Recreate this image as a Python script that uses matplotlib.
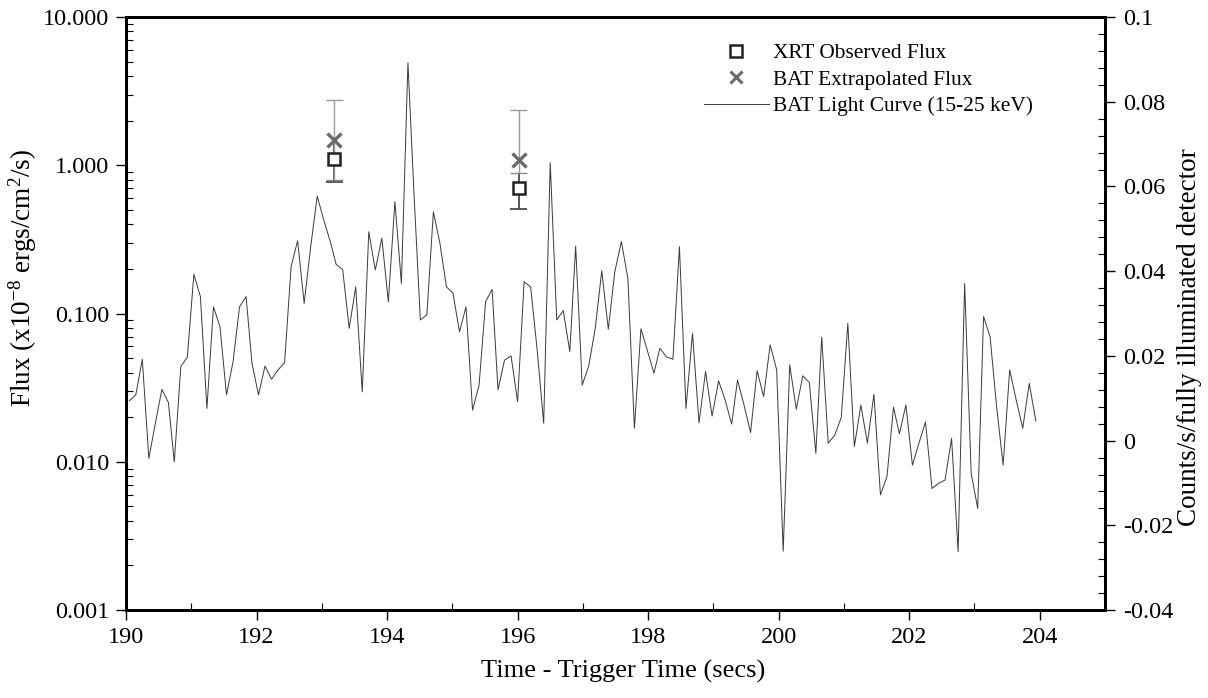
import matplotlib
matplotlib.use("Agg")
import matplotlib.pyplot as plt
import matplotlib.ticker as mticker
from matplotlib.lines import Line2D
import numpy as np

plt.rcParams['font.family'] = ['Liberation Serif', 'DejaVu Serif']
plt.rcParams['mathtext.fontset'] = 'custom'
plt.rcParams['mathtext.rm'] = 'Liberation Serif'
plt.rcParams['mathtext.it'] = 'Liberation Serif:italic'
plt.rcParams['axes.unicode_minus'] = False

# BAT light curve (15-25 keV), counts/s/fully illuminated detector
lc_time = [190.05, 190.15, 190.25, 190.35, 190.45, 190.55, 190.65, 190.74, 190.84, 190.94,
           191.04, 191.14, 191.24, 191.34, 191.44, 191.54, 191.64, 191.74, 191.84, 191.93,
           192.03, 192.13, 192.23, 192.33, 192.43, 192.53, 192.63, 192.73, 192.83, 192.93,
           193.03, 193.13, 193.22, 193.32, 193.42, 193.52, 193.62, 193.72, 193.82, 193.92,
           194.02, 194.12, 194.22, 194.32, 194.41, 194.51, 194.61, 194.71, 194.81, 194.91,
           195.01, 195.11, 195.21, 195.31, 195.41, 195.51, 195.61, 195.70, 195.80, 195.90,
           196.00, 196.10, 196.20, 196.30, 196.40, 196.50, 196.60, 196.70, 196.80, 196.89,
           196.99, 197.09, 197.19, 197.29, 197.39, 197.49, 197.59, 197.69, 197.79, 197.89,
           197.99, 198.09, 198.18, 198.28, 198.38, 198.48, 198.58, 198.68, 198.78, 198.88,
           198.98, 199.08, 199.18, 199.28, 199.37, 199.47, 199.57, 199.67, 199.77, 199.87,
           199.97, 200.07, 200.17, 200.27, 200.37, 200.47, 200.57, 200.66, 200.76, 200.86,
           200.96, 201.06, 201.16, 201.26, 201.36, 201.46, 201.56, 201.66, 201.76, 201.85,
           201.95, 202.05, 202.15, 202.25, 202.35, 202.45, 202.55, 202.65, 202.75, 202.85,
           202.95, 203.05, 203.14, 203.24, 203.34, 203.44, 203.54, 203.64, 203.74, 203.84,
           203.94]
lc_counts = [0.0094, 0.0108, 0.0192, -0.0042, 0.0041, 0.0121, 0.0090, -0.0050, 0.0175, 0.0197,
             0.0393, 0.0340, 0.0076, 0.0316, 0.0269, 0.0108, 0.0186, 0.0316, 0.0340, 0.0183,
             0.0108, 0.0176, 0.0145, 0.0167, 0.0184, 0.0411, 0.0472, 0.0324, 0.0458, 0.0577,
             0.0521, 0.0470, 0.0416, 0.0404, 0.0265, 0.0363, 0.0115, 0.0493, 0.0403, 0.0478,
             0.0328, 0.0564, 0.0371, 0.0892, 0.0592, 0.0285, 0.0297, 0.0540, 0.0466, 0.0363,
             0.0348, 0.0257, 0.0316, 0.0072, 0.0131, 0.0328, 0.0357, 0.0120, 0.0190, 0.0200,
             0.0092, 0.0375, 0.0363, 0.0214, 0.0041, 0.0656, 0.0285, 0.0307, 0.0210, 0.0459,
             0.0131, 0.0176, 0.0265, 0.0401, 0.0263, 0.0399, 0.0470, 0.0383, 0.0029, 0.0264,
             0.0212, 0.0159, 0.0218, 0.0198, 0.0192, 0.0458, 0.0076, 0.0253, 0.0042, 0.0163,
             0.0058, 0.0141, 0.0096, 0.0039, 0.0143, 0.0084, 0.0019, 0.0165, 0.0104, 0.0226,
             0.0167, -0.0261, 0.0179, 0.0074, 0.0153, 0.0137, -0.0030, 0.0244, -0.0006, 0.0013,
             0.0055, 0.0277, -0.0014, 0.0084, -0.0006, 0.0109, -0.0128, -0.0085, 0.0079, 0.0016,
             0.0084, -0.0058, -0.0006, 0.0044, -0.0113, -0.0101, -0.0093, 0.0005, -0.0262, 0.0371,
             -0.0077, -0.0160, 0.0293, 0.0245, 0.0080, -0.0058, 0.0167, 0.0096, 0.0029, 0.0135,
             0.0047]

# flux points (x1e-8 ergs/cm2/s)
flux_time = [193.19, 196.02]
xrt_flux = [1.11, 0.707]
xrt_lo = [0.775, 0.504]
xrt_hi = [1.40, 0.887]
bat_flux = [1.476, 1.093]
bat_lo = [0.80, 0.887]
bat_hi = [2.75, 2.35]

fig = plt.figure(figsize=(12.08, 6.98), dpi=100, facecolor='white')
ax = fig.add_axes([0.1043, 0.126, 0.8104, 0.8496])
ax2 = ax.twinx()

# error bars drawn by hand: caps are 0.13 s either side of the point
cap = 0.13
ft = np.array(flux_time)
ax.vlines(ft, xrt_lo, xrt_hi, color='#4a4a4a', linewidth=1.3, zorder=3)
ax.hlines(xrt_lo, ft - cap, ft + cap, color='#4a4a4a', linewidth=1.3, zorder=3)
ax.vlines(ft, bat_lo, bat_hi, color='#9a9a9a', linewidth=1.0, zorder=3)
ax.hlines(bat_lo, ft - cap, ft + cap, color='#8a8a8a', linewidth=1.0, zorder=3)
ax.hlines(bat_hi, ft - cap, ft + cap, color='#9a9a9a', linewidth=1.0, zorder=3)

ax.plot(ft, bat_flux, linestyle='none', marker='x', markersize=10, mew=2.4, color='#6b6b6b', zorder=5)
ax.plot(ft, xrt_flux, linestyle='none', marker='s', markersize=9, mew=1.8,
        markerfacecolor='white', markeredgecolor='#222222', zorder=5)

ax.set_yscale('log')
ax.set_ylim(0.001, 10)
ax.set_xlim(190, 205)
ax.yaxis.set_major_locator(mticker.FixedLocator([0.001, 0.01, 0.1, 1, 10]))
ax.yaxis.set_major_formatter(mticker.FormatStrFormatter('%.3f'))
ax.yaxis.set_minor_locator(mticker.LogLocator(base=10, subs=np.arange(2, 10)))
ax.yaxis.set_minor_formatter(mticker.NullFormatter())
ax.xaxis.set_major_locator(mticker.FixedLocator(np.arange(190, 205, 2)))
ax.xaxis.set_minor_locator(mticker.FixedLocator(np.arange(191, 206, 1)))
ax.xaxis.set_major_formatter(mticker.FormatStrFormatter('%d'))

ax2.plot(lc_time, lc_counts, color='#3a3a3a', linewidth=0.7, zorder=2)
ax2.set_ylim(-0.04, 0.1)
ax2.yaxis.set_major_locator(mticker.FixedLocator([-0.04, -0.02, 0, 0.02, 0.04, 0.06, 0.08, 0.1]))
ax2.yaxis.set_major_formatter(mticker.FuncFormatter(lambda v, p: '%g' % round(v, 3)))
ax2.yaxis.set_minor_locator(mticker.MultipleLocator(0.004))

for a in (ax, ax2):
    for s in a.spines.values():
        s.set_linewidth(2.0)
        s.set_color('black')
ax.tick_params(axis='both', which='major', direction='out', length=7, width=1.0,
               labelsize=17.5, colors='black', pad=5)
ax.tick_params(axis='both', which='minor', direction='in', length=5, width=0.8)
ax.tick_params(axis='x', which='both', top=False)
ax2.tick_params(axis='y', which='major', direction='out', length=7, width=1.0,
                labelsize=17.5, pad=6)
ax2.tick_params(axis='y', which='minor', direction='in', length=5, width=0.8)

ax.set_xlabel('Time - Trigger Time (secs)', fontsize=19)
ax.xaxis.set_label_coords(0.508, -0.084)
ax.set_ylabel('Flux (x10$^{-8}$ ergs/cm$^{2}$/s)', fontsize=19.5)
ax.yaxis.set_label_coords(-0.089, 0.56)
ax2.set_ylabel('Counts/s/fully illuminated detector', fontsize=19.5, rotation=90)
ax2.yaxis.set_label_coords(1.074, 0.46)

handles = [
    Line2D([], [], linestyle='none', marker='s', markersize=8, mew=1.8,
           markerfacecolor='white', markeredgecolor='#222222'),
    Line2D([], [], linestyle='none', marker='x', markersize=9, mew=2.2, color='#6b6b6b'),
    Line2D([], [], color='#3a3a3a', linewidth=0.7),
]
labels = ['XRT Observed Flux', 'BAT Extrapolated Flux', 'BAT Light Curve (15-25 keV)']
ax2.legend(handles, labels, loc='upper right', bbox_to_anchor=(0.946, 0.988), frameon=False,
           fontsize=15.4, handlelength=3.0, handletextpad=0.2, labelspacing=0.3)

fig.savefig('out.png', dpi=100, facecolor='white')
